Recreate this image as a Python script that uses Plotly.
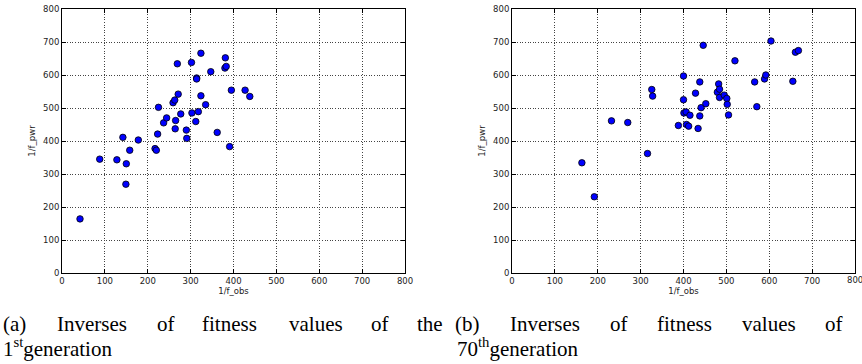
import plotly.graph_objects as go

# ---- data ----
gen1_obs = [42, 88, 128, 142, 149, 150, 158, 178, 217, 220, 223, 225, 237, 244, 259, 263,
            265, 264, 269, 271, 277, 290, 291, 302, 303, 312, 314, 314, 318, 324, 324, 335,
            347, 362, 381, 380, 383, 391, 395, 427, 438]
gen1_pwr = [164, 345, 343, 411, 269, 331, 372, 403, 377, 372, 421, 502, 455, 470, 516, 524,
            462, 437, 634, 542, 482, 433, 408, 638, 485, 459, 591, 588, 489, 666, 537, 510,
            610, 426, 652, 621, 626, 383, 554, 554, 535]

gen70_obs = [163, 192, 232, 270, 316, 326, 328, 388, 400, 400, 401, 406, 407, 412, 415, 428,
             434, 438, 438, 441, 446, 452, 479, 482, 484, 484, 495, 501, 502, 505, 520, 566,
             571, 589, 592, 604, 655, 661, 668]
gen70_pwr = [334, 231, 461, 456, 362, 556, 536, 447, 597, 525, 485, 488, 450, 445, 478, 545,
             438, 476, 579, 501, 690, 513, 548, 573, 557, 532, 539, 529, 511, 479, 643, 579,
             504, 588, 600, 703, 581, 669, 674]

axis_ticks = [0, 100, 200, 300, 400, 500, 600, 700, 800]
x_label = "1/f_obs"
y_label = "1/f_pwr"

caption_a_words = ["(a)", "Inverses", "of", "fitness", "values", "of", "the"]
caption_b_words = ["(b)", "Inverses", "of", "fitness", "values", "of"]
caption_a_line2 = "1<sup>st</sup>generation"
caption_b_line2 = "70<sup>th</sup>generation"

W, H = 862, 364

fig = go.Figure()
marker = dict(color="#0000ff", size=6.5, line=dict(color="black", width=0.8))
fig.add_trace(go.Scatter(x=gen1_obs, y=gen1_pwr, mode="markers", marker=marker,
                         xaxis="x", yaxis="y", showlegend=False))
fig.add_trace(go.Scatter(x=gen70_obs, y=gen70_pwr, mode="markers", marker=marker,
                         xaxis="x2", yaxis="y2", showlegend=False))

tickfont = dict(family="DejaVu Sans", size=8.5, color="#222")
titlefont = dict(family="DejaVu Sans", size=8.5, color="#222")

def ax(domain, anchor, title, standoff):
    return dict(domain=domain, anchor=anchor, range=[0, 800], tickvals=axis_ticks,
                ticktext=[str(t) for t in axis_ticks], automargin=False,
                showline=True, linecolor="black", linewidth=1, mirror="ticks",
                ticks="inside", ticklen=4, tickcolor="black", tickwidth=1,
                showgrid=True, gridcolor="#444", gridwidth=0.8, griddash="1px,1.6px",
                zeroline=False, tickfont=tickfont,
                title=dict(text=title, font=titlefont, standoff=standoff),
                fixedrange=True)

y_dom = [(H - 273) / H, (H - 9) / H]
fig.update_layout(
    width=W, height=H, template="none",
    margin=dict(l=0, r=0, t=0, b=0, autoexpand=False),
    paper_bgcolor="white", plot_bgcolor="white",
    xaxis=ax([62 / W, 405 / W], "y", x_label, 2),
    yaxis=ax(y_dom, "x", y_label, 6),
    xaxis2=ax([512 / W, 855 / W], "y2", x_label, 2),
    yaxis2=ax(y_dom, "x2", y_label, 6),
)

# last x tick label of the right panel (Plotly hides it because it overflows the page)
fig.add_annotation(text=str(axis_ticks[-1]), x=axis_ticks[-1], xref="x2", y=0, yref="y2",
                   xanchor="center", yanchor="top", yshift=-1, showarrow=False,
                   font=tickfont, borderpad=0)

capfont = dict(family="Liberation Serif", size=21, color="black")
a_centers = [14, 92, 166, 230, 316, 380, 430]
b_centers = [467, 545, 619, 684, 769, 834]
line1_bottom = (H - 337.5) / H
line2_bottom = (H - 363) / H
for word, cx in zip(caption_a_words, a_centers):
    fig.add_annotation(text=word, x=cx / W, y=line1_bottom, xref="paper", yref="paper",
                       xanchor="center", yanchor="bottom", showarrow=False, font=capfont)
for word, cx in zip(caption_b_words, b_centers):
    fig.add_annotation(text=word, x=cx / W, y=line1_bottom, xref="paper", yref="paper",
                       xanchor="center", yanchor="bottom", showarrow=False, font=capfont)
fig.add_annotation(text=caption_a_line2, x=1 / W, y=line2_bottom, xref="paper", yref="paper",
                   xanchor="left", yanchor="bottom", showarrow=False, font=capfont)
fig.add_annotation(text=caption_b_line2, x=455 / W, y=line2_bottom, xref="paper", yref="paper",
                   xanchor="left", yanchor="bottom", showarrow=False, font=capfont)

fig.write_html("out.html", config={"displayModeBar": False},
               post_script="document.body.style.margin='0';document.body.style.overflow='hidden';")
